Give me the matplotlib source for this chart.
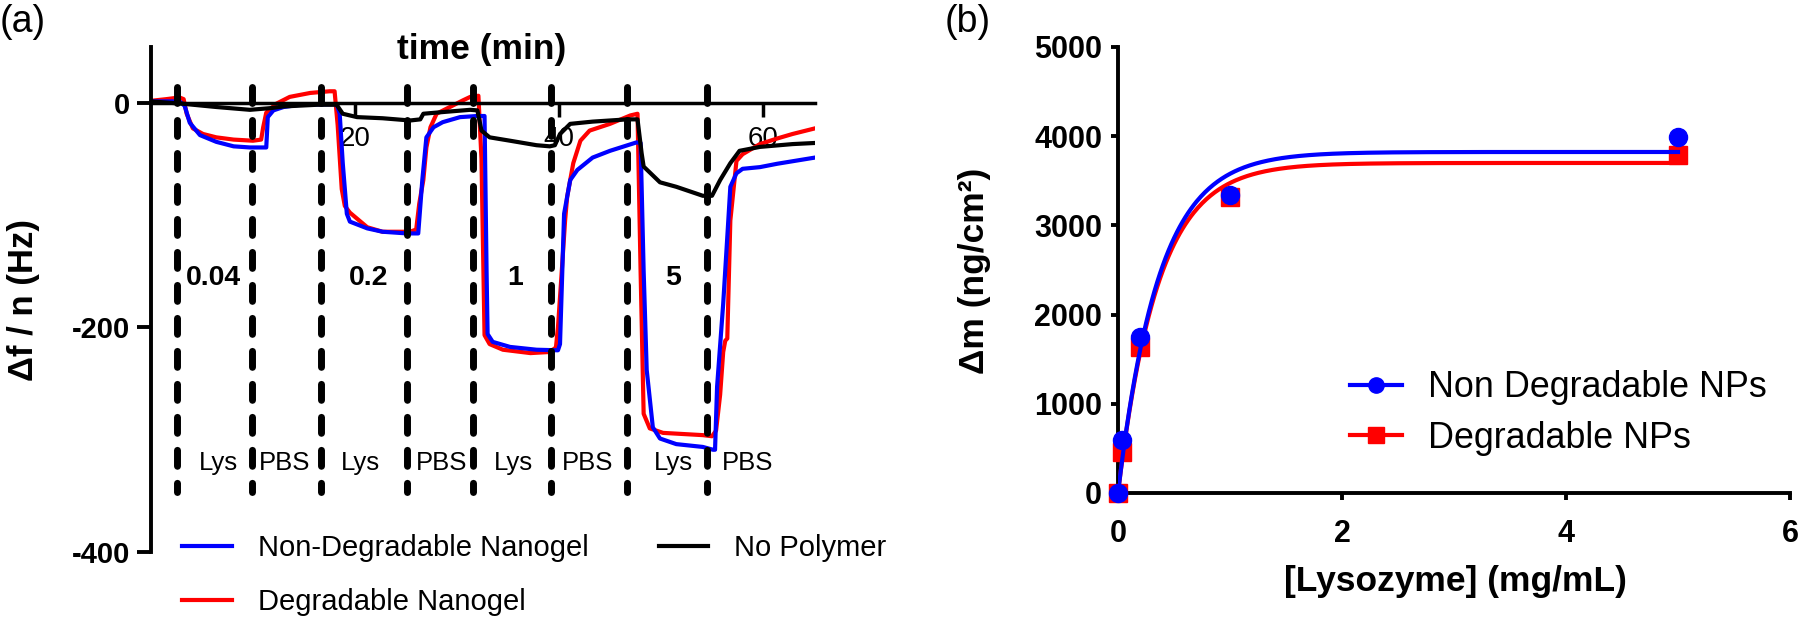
import numpy as np
import matplotlib
matplotlib.use('Agg')
import matplotlib.pyplot as plt
from matplotlib.lines import Line2D

plt.rcParams['font.family'] = ['Liberation Sans', 'DejaVu Sans']

# ---------------- Panel (a) data: QCM-D frequency shift vs time ----------------
deg_t = [0.0, 1.5, 2.8, 3.2, 3.5, 4.1, 5.1, 6.4, 8.1, 10.0, 10.8, 11.0, 11.3, 12.3,
         13.6, 15.6, 17.5, 18.0, 18.3, 18.7, 19.0, 19.5, 21.2, 22.7, 25.4, 26.0,
         26.3, 26.7, 27.0, 27.4, 28.0, 29.3, 30.6, 31.3, 32.1, 32.4, 32.7, 33.2,
         34.5, 37.2, 39.1, 39.7, 39.9, 40.2, 40.6, 40.8, 41.4, 42.1, 43.0, 45.0,
         47.0, 47.7, 48.0, 48.3, 48.9, 50.2, 54.1, 55.0, 55.4, 55.8, 56.1, 56.3,
         56.5, 56.8, 57.4, 58.0, 59.7, 61.4, 62.9, 65.1]
deg_f = [1.5, 3, 4.5, 3, -10, -23, -28, -31, -33, -34, -33, -22, -9, -1,
         5, 8.5, 10, 10, -20, -77, -92, -98, -111, -115, -115, -113,
         -90, -69, -40, -22, -10, -4, 2, 5, 6, -50, -207, -215,
         -220, -223, -222, -218, -200, -160, -105, -84, -54, -34, -25, -19,
         -11.5, -10, -150, -277, -290, -294, -296, -297, -292, -260, -222, -212,
         -210, -105, -52, -46, -37, -32, -28, -23]

nondeg_t = [0.0, 2.8, 3.3, 3.8, 4.8, 6.4, 8.1, 9.7, 11.3, 11.45, 12.0, 13.0, 14.6,
            18.2, 18.5, 18.8, 19.2, 19.5, 21.2, 22.7, 25.1, 26.2, 26.6, 27.0, 27.7,
            28.6, 30.3, 32.0, 32.7, 32.9, 33.0, 33.5, 35.2, 37.8, 39.9, 40.1, 40.5,
            41.1, 41.8, 43.3, 45.0, 47.6, 48.0, 48.3, 48.6, 49.2, 49.9, 51.5, 54.1,
            55.1, 55.3, 55.5, 56.1, 56.6, 56.8, 57.4, 58.0, 59.7, 61.4, 65.1]
nondeg_f = [1, 1, -3, -18, -29, -35, -39, -40, -40, -13, -7, -4, -2,
            -1.5, -10, -54, -99, -106, -112, -115, -116.5, -116.5, -69, -31, -22,
            -17.5, -13, -12, -12, -150, -206, -213, -217.5, -220, -220.5, -215, -99,
            -69, -60, -49, -43, -35.5, -36, -150, -238, -289, -299, -304, -306.5,
            -309, -309, -253, -179, -105, -75, -63, -59, -57.5, -54.5, -49]

nopoly_t = [0.0, 3.0, 6.4, 9.7, 11.7, 13.0, 16.3, 18.2, 18.8, 20.2, 22.7, 25.4, 26.4,
            26.7, 28.6, 31.3, 32.0, 32.4, 33.2, 35.2, 37.8, 39.1, 39.6, 40.1, 41.1,
            43.3, 46.7, 47.7, 48.1, 48.3, 49.9, 51.5, 54.1, 55.0, 55.8, 56.8, 57.7,
            59.7, 62.9, 65.1]
nopoly_f = [1, -1, -4, -6.5, -5, -3.5, -2, -2, -10, -13, -14, -16, -15,
            -10, -8.5, -6.5, -7, -25, -31, -34, -38, -39, -38, -28, -19,
            -17, -15, -15, -45, -57, -71, -75, -83, -83, -69, -54, -43,
            -39.5, -37, -36]

injection_t = [2.55, 9.9, 16.7, 25.1, 31.6, 39.2, 46.7, 54.5]
conc_labels = ['0.04', '0.2', '1', '5']
conc_t = [6.1, 21.3, 35.7, 51.2]
phase_labels = ['Lys', 'PBS', 'Lys', 'PBS', 'Lys', 'PBS', 'Lys', 'PBS']
phase_t = [6.6, 13.1, 20.5, 28.5, 35.5, 42.8, 51.2, 58.5]
a_xticks = [20, 40, 60]
a_yticks = [-400, -200, 0]

# ---------------- Panel (b) data: adsorbed mass vs lysozyme ----------------
lyso_conc = [0, 0.04, 0.2, 1, 5]
dm_nondeg = [0, 594, 1750, 3340, 3990]
dm_deg = [0, 460, 1640, 3320, 3790]
# one-phase association fit parameters
fit_top_nondeg, fit_k_nondeg = 3823, 2.75
fit_top_deg, fit_k_deg = 3700, 2.8
b_xticks = [0, 2, 4, 6]
b_yticks = [0, 1000, 2000, 3000, 4000, 5000]

BLUE = '#0000FF'
RED = '#FF0000'

W, H = 1800, 622
fig = plt.figure(figsize=(W / 100, H / 100), dpi=100)

# ================= Panel (a) =================
axA = fig.add_axes([151 / W, 70 / H, 664 / W, 505 / H])
axA.set_xlim(0, 65.1)
axA.set_ylim(-400, 49.4)
axA.set_axisbelow(True)
for s in ['top', 'right']:
    axA.spines[s].set_visible(False)
axA.spines['bottom'].set_position(('data', 0))
axA.spines['bottom'].set_linewidth(2.5)
axA.spines['left'].set_linewidth(2.8)

lr, = axA.plot(deg_t, deg_f, color=RED, lw=3, zorder=2)
lb, = axA.plot(nondeg_t, nondeg_f, color=BLUE, lw=3, zorder=2.1)
lk, = axA.plot(nopoly_t, nopoly_f, color='black', lw=3, zorder=2.2)

for t in injection_t:
    axA.plot([t, t], [13.8, -346.5], color='black', lw=5,
             dashes=(2.3, 2.45), dash_capstyle='round', zorder=3)

for lab, t in zip(conc_labels, conc_t):
    axA.text(t, -156, lab, fontsize=20.5, fontweight='bold', ha='center', va='center')
for lab, t in zip(phase_labels, phase_t):
    axA.text(t, -320.7, lab, fontsize=18.5, ha='center', va='center')

axA.set_xticks(a_xticks)
axA.set_xticklabels([str(v) for v in a_xticks], fontsize=20)
axA.set_yticks(a_yticks)
axA.set_yticklabels([str(v) for v in a_yticks], fontsize=21, fontweight='bold')
axA.tick_params(axis='x', direction='out', length=10, width=2.5, pad=7)
axA.tick_params(axis='y', direction='out', length=10, width=2.8, pad=5)

fig.text(482 / W, 1 - 50 / H, 'time (min)', fontsize=25.5, fontweight='bold',
         ha='center', va='center')
fig.text(24 / W, 1 - 300 / H, 'Δf / n (Hz)', fontsize=25, fontweight='bold',
         rotation=90, ha='center', va='center')

fig.legend(handles=[lb, lr, lk],
           labels=['Non-Degradable Nanogel', 'Degradable Nanogel', 'No Polymer'],
           loc='center left', bbox_to_anchor=(182 / W, 1 - 575 / H), ncol=2,
           frameon=False, fontsize=21, handlelength=1.71, handletextpad=0.89,
           columnspacing=2.4, labelspacing=0.88, borderpad=0, borderaxespad=0)

fig.text(0, 1 - 22 / H, '(a)', fontsize=27, ha='left', va='center')

# ================= Panel (b) =================
axB = fig.add_axes([1118 / W, 129 / H, 672 / W, 446 / H])
axB.set_xlim(0, 6)
axB.set_ylim(0, 5000)
for s in ['top', 'right']:
    axB.spines[s].set_visible(False)
for s in ['left', 'bottom']:
    axB.spines[s].set_linewidth(2.8)

xfit = np.linspace(0, 5, 400)
axB.plot(xfit, fit_top_deg * (1 - np.exp(-fit_k_deg * xfit)), color=RED, lw=3, zorder=3)
axB.plot(lyso_conc, dm_deg, ls='none', marker='s', ms=13, color=RED, zorder=4, clip_on=False)
axB.plot(xfit, fit_top_nondeg * (1 - np.exp(-fit_k_nondeg * xfit)), color=BLUE, lw=3, zorder=5)
axB.plot(lyso_conc, dm_nondeg, ls='none', marker='o', ms=13, color=BLUE, zorder=6, clip_on=False)

axB.set_xticks(b_xticks)
axB.set_xticklabels([str(v) for v in b_xticks], fontsize=22, fontweight='bold')
axB.set_yticks(b_yticks)
axB.set_yticklabels([str(v) for v in b_yticks], fontsize=22, fontweight='bold')
axB.tick_params(axis='x', direction='out', length=5, width=2.8, pad=14)
axB.tick_params(axis='y', direction='out', length=5, width=2.8, pad=6.5)

hb = Line2D([], [], color=BLUE, lw=3, marker='o', ms=11)
hr = Line2D([], [], color=RED, lw=3, marker='s', ms=11)
fig.legend(handles=[hb, hr], labels=['Non Degradable NPs', 'Degradable NPs'],
           loc='center left', bbox_to_anchor=(1350 / W, 1 - 413 / H),
           frameon=False, fontsize=25.8, handlelength=1.45, handletextpad=0.72,
           labelspacing=0.42, borderpad=0, borderaxespad=0)

fig.text(1455 / W, 1 - 582 / H, '[Lysozyme] (mg/mL)', fontsize=25.5, fontweight='bold',
         ha='center', va='center')
fig.text(975 / W, 1 - 271 / H, 'Δm (ng/cm²)', fontsize=25.5, fontweight='bold',
         rotation=90, ha='center', va='center')
fig.text(945 / W, 1 - 22 / H, '(b)', fontsize=27, ha='left', va='center')

fig.savefig('out.png', dpi=100)
